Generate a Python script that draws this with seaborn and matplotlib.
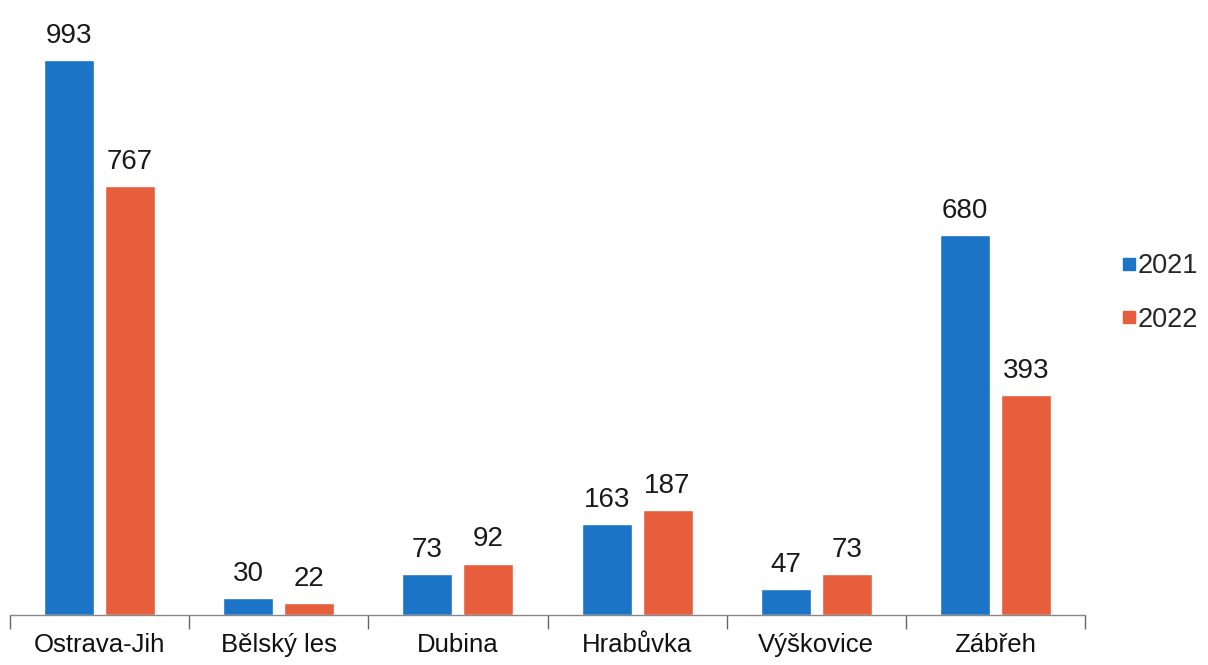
import matplotlib
matplotlib.use("Agg")
import matplotlib.pyplot as plt
from matplotlib.lines import Line2D
import seaborn as sns
import pandas as pd

# data
categories = ["Ostrava-Jih", "Bělský les", "Dubina", "Hrabůvka", "Výškovice", "Zábřeh"]
years = ["2021", "2022"]
values_2021 = [993, 30, 73, 163, 47, 680]
values_2022 = [767, 22, 92, 187, 73, 393]
colors = ["#1B74C5", "#E65E3C"]

df = pd.DataFrame({
    "obvod": categories * 2,
    "rok": [years[0]] * len(categories) + [years[1]] * len(categories),
    "pocet": values_2021 + values_2022,
})

sns.set_theme(style="white")
plt.rcParams["font.family"] = ["Liberation Sans", "DejaVu Sans"]

fig = plt.figure(figsize=(12.08, 6.65), dpi=100)
ax = fig.add_axes([10 / 1208, 50 / 665, 1075 / 1208, 605 / 665])

sns.barplot(data=df, x="obvod", y="pocet", hue="rok", palette=colors,
            width=0.68, gap=0.18, ax=ax, legend=False, saturation=1)

for cont in ax.containers:
    ax.bar_label(cont, padding=8, fontsize=20, color="#1a1a1a")

ax.set_ylim(0, 1082)
ax.set_xlim(-0.5, len(categories) - 0.5)
ax.set_xlabel("")
ax.set_ylabel("")
ax.set_yticks([])

for side in ["top", "right", "left"]:
    ax.spines[side].set_visible(False)
ax.spines["bottom"].set_color("#888888")
ax.spines["bottom"].set_linewidth(1.0)

ax.set_xticks(range(len(categories)))
ax.set_xticklabels(categories, fontsize=18.5, color="#111111")
ax.tick_params(axis="x", which="major", length=0, pad=13)
ax.set_xticks([i - 0.5 for i in range(len(categories) + 1)], minor=True)
ax.tick_params(axis="x", which="minor", length=10, width=1.0, color="#666666",
               direction="out", bottom=True)

handles = [Line2D([], [], marker="s", linestyle="", markersize=8,
                  markerfacecolor=c, markeredgecolor=c) for c in colors]
fig.legend(handles, years, loc="center left", bbox_to_anchor=(1121 / 1208, 1 - 293 / 665),
           frameon=False, fontsize=19.5, handletextpad=0.0, labelspacing=1.0,
           handlelength=0.6, borderpad=0, borderaxespad=0)

fig.savefig("out.png", dpi=100)
